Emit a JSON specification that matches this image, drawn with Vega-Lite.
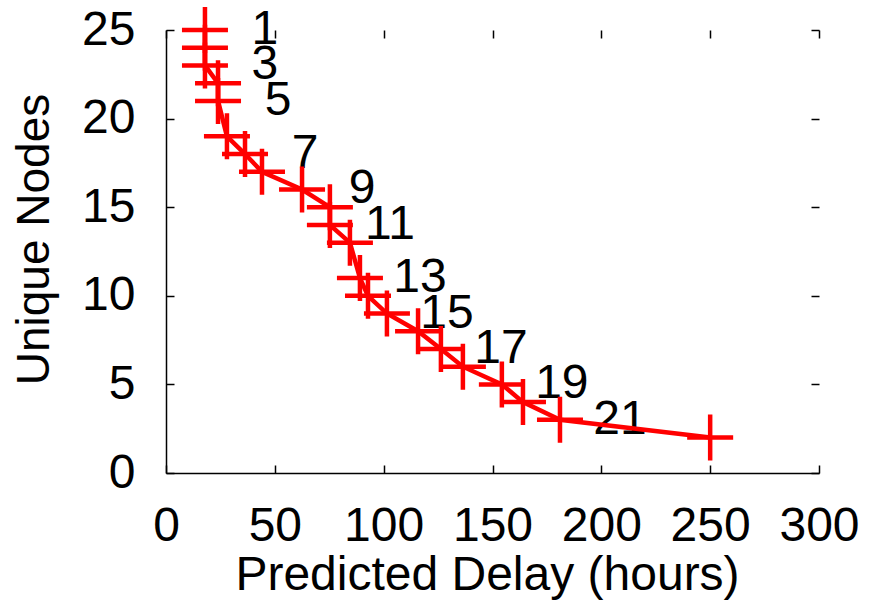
{
  "$schema": "https://vega.github.io/schema/vega-lite/v6.json",
  "width": 653,
  "height": 443,
  "autosize": "none",
  "padding": {"left": 166, "top": 30, "right": 53, "bottom": 131},
  "background": "white",
  "config": {
    "view": {"stroke": null},
    "font": "Liberation Sans",
    "axis": {
      "grid": false,
      "domainColor": "#000000",
      "domainWidth": 1.5,
      "tickColor": "#000000",
      "tickWidth": 1.5,
      "tickSize": -8,
      "labelFont": "Liberation Sans",
      "labelFontSize": 48,
      "labelColor": "#000000",
      "titleFont": "Liberation Sans",
      "titleFontSize": 48,
      "titleFontWeight": "normal",
      "titleColor": "#000000"
    }
  },
  "data": {
    "values": [
      {"idx": 1, "delay": 17.9, "nodes": 25},
      {"idx": 2, "delay": 17.9, "nodes": 24},
      {"idx": 3, "delay": 17.9, "nodes": 23},
      {"idx": 4, "delay": 23.9, "nodes": 22},
      {"idx": 5, "delay": 23.9, "nodes": 21},
      {"idx": 6, "delay": 28, "nodes": 19},
      {"idx": 7, "delay": 36.3, "nodes": 18},
      {"idx": 8, "delay": 44.1, "nodes": 17},
      {"idx": 9, "delay": 62.5, "nodes": 16},
      {"idx": 10, "delay": 75.3, "nodes": 15},
      {"idx": 11, "delay": 75.3, "nodes": 14},
      {"idx": 12, "delay": 84.5, "nodes": 13},
      {"idx": 13, "delay": 89.1, "nodes": 11},
      {"idx": 14, "delay": 92.8, "nodes": 10},
      {"idx": 15, "delay": 101.5, "nodes": 9},
      {"idx": 16, "delay": 115.8, "nodes": 8},
      {"idx": 17, "delay": 126.3, "nodes": 7},
      {"idx": 18, "delay": 136.4, "nodes": 6},
      {"idx": 19, "delay": 154.3, "nodes": 5},
      {"idx": 20, "delay": 164, "nodes": 4},
      {"idx": 21, "delay": 181, "nodes": 3},
      {"idx": 22, "delay": 250, "nodes": 2}
    ]
  },
  "layer": [
    {
      "transform": [{"filter": "datum.idx % 2 == 1"}],
      "mark": {"type": "text", "align": "center", "baseline": "middle", "dx": 60, "fontSize": 48, "color": "#000000", "font": "Liberation Sans"},
      "encoding": {
        "x": {
          "field": "delay", "type": "quantitative",
          "scale": {"domain": [0, 300], "nice": false, "zero": false},
          "axis": {"orient": "bottom", "values": [0, 50, 100, 150, 200, 250, 300], "labelPadding": 37, "labelBaseline": "top", "labelFlush": false, "labelOverlap": false, "title": "Predicted Delay (hours)", "titleX": 321, "titleAlign": "center", "titleY": 116, "titleBaseline": "alphabetic"}
        },
        "y": {
          "field": "nodes", "type": "quantitative",
          "scale": {"domain": [0, 25], "nice": false, "zero": false},
          "axis": {"orient": "left", "values": [0, 5, 10, 15, 20, 25], "labelPadding": 39, "labelBaseline": "middle", "labelFlush": false, "labelOverlap": false, "title": "Unique Nodes", "titleFontSize": 46, "titleX": -118, "titleY": 209, "titleAngle": -90, "titleAlign": "center", "titleBaseline": "alphabetic"}
        },
        "text": {"field": "idx", "type": "nominal"}
      }
    },
    {
      "mark": {"type": "line", "color": "#ff0000", "strokeWidth": 4.5},
      "encoding": {
        "x": {
          "field": "delay", "type": "quantitative",
          "axis": {"orient": "top", "values": [0, 50, 100, 150, 200, 250, 300], "labels": false, "domain": false, "title": null}
        },
        "y": {
          "field": "nodes", "type": "quantitative",
          "axis": {"orient": "right", "values": [0, 5, 10, 15, 20, 25], "labels": false, "domain": false, "title": null}
        },
        "order": {"field": "idx", "type": "quantitative"}
      }
    },
    {
      "mark": {"type": "point", "shape": "M-1,0L1,0M0,-1L0,1", "size": 2116, "filled": false, "stroke": "#ff0000", "strokeWidth": 4.5, "opacity": 1},
      "encoding": {
        "x": {"field": "delay", "type": "quantitative", "axis": null},
        "y": {"field": "nodes", "type": "quantitative", "axis": null}
      }
    }
  ],
  "resolve": {"axis": {"x": "independent", "y": "independent"}}
}
